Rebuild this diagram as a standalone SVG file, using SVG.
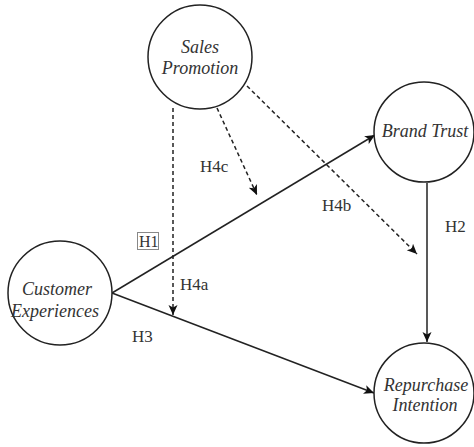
<svg xmlns="http://www.w3.org/2000/svg" width="474" height="447" viewBox="0 0 474 447">
<defs>
<style>
.node{fill:#fff;stroke:#222;stroke-width:1.5}
.nt{font-family:"Liberation Serif","DejaVu Serif",serif;font-style:italic;font-size:18px;fill:#333;text-anchor:middle}
.lb{font-family:"Liberation Serif","DejaVu Serif",serif;font-size:17px;fill:#333}
.solid{stroke:#222;stroke-width:1.5;fill:none}
.dash{stroke:#222;stroke-width:1.5;fill:none;stroke-dasharray:4,3}
</style>
<marker id="ah" viewBox="0 0 10 10" refX="10" refY="5" markerWidth="10" markerHeight="10" markerUnits="userSpaceOnUse" orient="auto">
<path d="M0,0.5 L10,5 L0,9.5 L2.5,5 Z" fill="#111"/>
</marker>
</defs>
<rect width="474" height="447" fill="#fff"/>
<g id="connectors">
<line class="solid" x1="112" y1="293" x2="375" y2="135" marker-end="url(#ah)"/>
<line class="solid" x1="112" y1="293" x2="374" y2="393" marker-end="url(#ah)"/>
<line class="solid" x1="427" y1="183" x2="427" y2="342" marker-end="url(#ah)"/>
<line class="dash" x1="173" y1="108" x2="173" y2="315" marker-end="url(#ah)"/>
<line class="dash" x1="217" y1="108" x2="257" y2="195" marker-end="url(#ah)"/>
<line class="dash" x1="247" y1="86" x2="417" y2="254" marker-end="url(#ah)"/>
</g>
<g id="sales-promotion">
<circle class="node" cx="200" cy="57" r="52"/>
<text class="nt" x="200" y="53" font-family="Liberation Serif, serif">Sales</text>
<text class="nt" x="200" y="74" font-family="Liberation Serif, serif">Promotion</text>
</g>
<g id="brand-trust">
<circle class="node" cx="424" cy="132" r="50"/>
<text class="nt" x="425" y="137" font-family="Liberation Serif, serif">Brand Trust</text>
</g>
<g id="customer-experiences">
<circle class="node" cx="60" cy="293" r="52"/>
<text class="nt" x="57" y="295" font-family="Liberation Serif, serif">Customer</text>
<text class="nt" x="55" y="317" font-family="Liberation Serif, serif">Experiences</text>
</g>
<g id="repurchase-intention">
<circle class="node" cx="424" cy="393" r="50"/>
<text class="nt" x="426" y="391" font-family="Liberation Serif, serif">Repurchase</text>
<text class="nt" x="425" y="411" font-family="Liberation Serif, serif">Intention</text>
</g>
<g id="labels">
<text class="lb" x="200" y="172" font-family="Liberation Serif, serif">H4c</text>
<text class="lb" x="322" y="211" font-family="Liberation Serif, serif">H4b</text>
<text class="lb" x="445" y="232" font-family="Liberation Serif, serif">H2</text>
<rect x="137.5" y="232.5" width="21" height="17" fill="none" stroke="#888" stroke-width="1"/>
<text class="lb" x="139" y="247" font-family="Liberation Serif, serif" style="font-size:16px">H1</text>
<text class="lb" x="180" y="290" font-family="Liberation Serif, serif">H4a</text>
<text class="lb" x="132" y="342" font-family="Liberation Serif, serif">H3</text>
</g>
</svg>
